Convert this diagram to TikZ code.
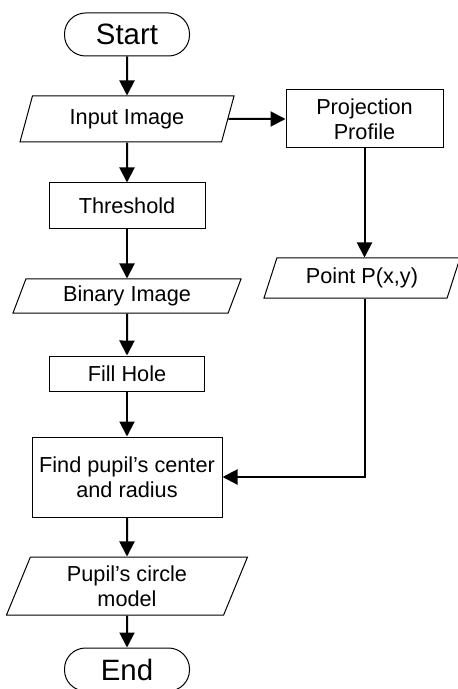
\documentclass[tikz,border=0pt]{standalone}
\usepackage{fontspec}
\setmainfont{Liberation Sans}
\usetikzlibrary{shapes.geometric,arrows.meta}

\begin{document}
\begin{tikzpicture}[x=0.5pt,y=-0.5pt,
    every node/.style={font=\fontsize{10.85}{12.5}\selectfont, align=center, inner sep=1pt},
    term/.style={draw, line width=0.5pt, rounded corners=10.5pt,
      minimum width=62.5pt, minimum height=21.5pt, font=\fontsize{14.7}{16}\selectfont},
    proc/.style={draw, line width=0.5pt, rectangle},
    io/.style={draw, line width=0.5pt, trapezium, trapezium left angle=62,
      trapezium right angle=118, trapezium stretches body}]
  \useasboundingbox (0,0) rectangle (458,689);
  \draw
    (127,34.5) node[term] (start){Start}
    (127,119) node[io, minimum width=107pt, minimum height=23pt] (input){Input Image}
    (364.5,119) node[proc, minimum width=78.5pt, minimum height=29pt] (proj){Projection\\Profile}
    (127,206) node[proc, minimum width=78pt, minimum height=23pt] (thresh){Threshold}
    (127,296) node[io, minimum width=114pt, minimum height=17pt] (binary){Binary Image}
    (362,278) node[io, minimum width=98pt, minimum height=20pt] (point){Point P(x,y)}
    (127,373.5) node[proc, minimum width=77.5pt, minimum height=17.5pt] (fill){Fill Hole}
    (127,477) node[proc, minimum width=95pt, minimum height=40pt] (find){Find pupil’s center\\and radius}
    (127,586) node[io, minimum width=120.5pt, minimum height=29pt] (model){Pupil’s circle\\model}
    (127,669.5) node[term] (stop){End};
  \begin{scope}[-{Triangle[length=7.5pt,width=7.5pt]}, line width=1pt]
    \draw (start) to (input);
    \draw (input) to (proj);
    \draw (input) to (thresh);
    \draw (thresh) to (binary);
    \draw (binary) to (fill);
    \draw (fill) to (find);
    \draw (find) to (model);
    \draw (model) to (stop);
    \draw (proj) to (proj |- point.north);
    \draw (point.south -| proj) |- (find);
  \end{scope}
\end{tikzpicture}
\end{document}
